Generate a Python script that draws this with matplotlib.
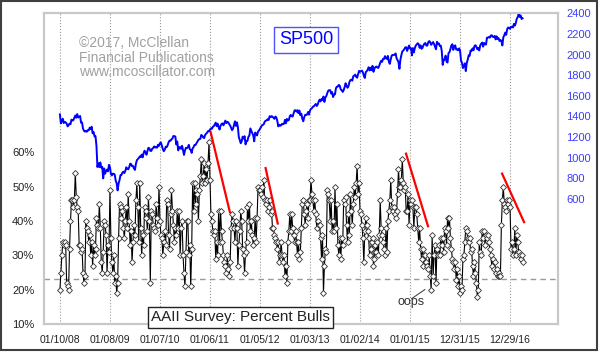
import matplotlib
matplotlib.use("Agg")
import matplotlib.pyplot as plt
from matplotlib.patches import Rectangle
import pandas as pd

plt.rcParams['font.family'] = ['Liberation Sans', 'DejaVu Sans']

first_week = "2008-01-10"

# AAII percent bulls, weekly, in 52-week blocks starting at each x tick
bulls_08 = [20, 25, 30, 34, 33, 34, 33, 22, 21, 20, 32, 40, 46, 46, 44, 46, 54, 47, 44, 43,
            33, 33, 31, 32, 25, 22, 24, 40, 38, 37, 34, 36, 30, 34, 27, 33, 30, 32, 41, 39,
            38, 45, 38, 28, 25, 31, 40, 39, 36, 25, 33, 31]
bulls_09 = [49, 35, 28, 25, 30, 22, 24, 19, 22, 35, 45, 44, 41, 43, 38, 35, 40, 44, 38, 48,
            40, 33, 37, 28, 34, 39, 36, 46, 51, 44, 34, 51, 38, 30, 36, 33, 44, 43, 41, 37,
            47, 40, 22, 43, 42, 39, 38, 37, 45, 41, 39, 50]
bulls_10 = [40, 36, 35, 30, 34, 37, 33, 46, 45, 36, 32, 42, 49, 43, 39, 34, 38, 36, 43, 38,
            43, 30, 38, 40, 30, 25, 21, 31, 40, 40, 30, 33, 21, 32, 51, 43, 51, 45, 49, 48,
            40, 49, 53, 58, 51, 53, 57, 51, 55, 52, 57, 63]
bulls_11 = [52, 42, 40, 37, 36, 37, 29, 34, 30, 43, 34, 43, 37, 34, 30, 28, 27, 25, 30, 26,
            24, 28, 38, 42, 40, 38, 34, 40, 38, 27, 33, 37, 43, 40, 32, 30, 25, 31, 34, 44,
            40, 45, 37, 40, 36, 33, 35, 41, 34, 41, 50, 49]
bulls_12 = [49, 48, 50, 47, 52, 46, 45, 46, 43, 44, 46, 42, 43, 38, 38, 36, 35, 34, 32, 34,
            28, 30, 34, 30, 28, 30, 24, 27, 22, 34, 37, 42, 37, 42, 38, 36, 34, 37, 34, 30,
            34, 29, 31, 38, 45, 46, 42, 39, 43, 45, 41, 46]
bulls_13 = [46, 52, 48, 46, 43, 46, 42, 38, 40, 39, 39, 35, 29, 36, 19, 27, 32, 31, 49, 48,
            46, 40, 46, 37, 40, 37, 50, 38, 45, 33, 30, 35, 29, 35, 33, 46, 45, 47, 39, 34,
            42, 36, 48, 43, 39, 45, 50, 47, 51, 56, 48, 51]
bulls_14 = [43, 42, 39, 35, 28, 37, 41, 39, 37, 35, 30, 32, 34, 35, 27, 29, 33, 31, 34, 30,
            36, 46, 38, 36, 34, 32, 30, 38, 31, 40, 43, 46, 52, 44, 43, 44, 42, 41, 43, 48,
            55, 50, 50, 52, 58, 51, 49, 50, 43, 43, 48, 39]
bulls_15 = [46, 45, 46, 44, 38, 44, 44, 42, 38, 34, 38, 32, 29, 32, 27, 30, 30, 28, 27, 26,
            30, 24, 20, 36, 24, 30, 33, 22, 32, 30, 33, 30, 35, 33, 35, 31, 38, 37, 33, 41,
            38, 41, 35, 32, 29, 28, 26, 28, 23, 26, 21, 24]
bulls_16 = [19, 21, 20, 29, 30, 34, 38, 37, 35, 34, 35, 31, 32, 27, 24, 28, 25, 22, 18, 20,
            34, 31, 30, 37, 35, 37, 33, 36, 35, 36, 34, 32, 30, 27, 29, 26, 28, 25, 26, 24,
            25, 24, 24, 39, 46, 50, 45, 44, 43, 46, 45, 46]
bulls_17 = [44, 32, 34, 30, 32, 38, 30, 36, 34, 31, 30, 29, 30, 28]

# S&P 500 weekly closes (Thursdays), by calendar year
spx_2008 = [1420, 1333, 1352, 1378, 1336, 1348, 1342, 1331, 1304, 1315, 1330, 1325, 1369,
            1360, 1365, 1388, 1409, 1388, 1423, 1390, 1398, 1404, 1339, 1342, 1283, 1262,
            1253, 1260, 1252, 1267, 1266, 1292, 1277, 1300, 1237, 1249, 1206, 1209, 1114,
            910, 946, 908, 954, 905, 911, 800, 896, 845, 873, 885, 868]
spx_2009 = [931, 909, 844, 828, 845, 845, 835, 778, 752, 683, 750, 784, 832, 834, 856, 865,
            851, 873, 907, 893, 888, 906, 942, 939, 918, 920, 896, 882, 940, 976, 986, 997,
            1012, 1007, 1030, 1003, 1044, 1068, 1050, 1029, 1065, 1096, 1092, 1066, 1066,
            1088, 1094, 1110, 1099, 1102, 1097, 1126, 1115]
spx_2010 = [1141, 1148, 1116, 1084, 1063, 1078, 1106, 1102, 1122, 1150, 1166, 1165, 1178,
            1187, 1211, 1208, 1206, 1128, 1157, 1071, 1103, 1102, 1086, 1116, 1074, 1027,
            1070, 1096, 1093, 1101, 1125, 1083, 1075, 1047, 1090, 1104, 1124, 1124, 1141,
            1158, 1173, 1180, 1183, 1221, 1213, 1196, 1190, 1221, 1233, 1242, 1258, 1257]
spx_2011 = [1273, 1283, 1281, 1299, 1307, 1321, 1340, 1306, 1330, 1295, 1273, 1310, 1326,
            1333, 1314, 1337, 1360, 1335, 1348, 1343, 1325, 1312, 1289, 1267, 1283, 1320,
            1353, 1308, 1343, 1300, 1200, 1172, 1140, 1159, 1204, 1185, 1209, 1129, 1160,
            1164, 1203, 1215, 1284, 1261, 1239, 1216, 1159, 1244, 1234, 1216, 1254, 1263]
spx_2012 = [1281, 1295, 1314, 1318, 1326, 1351, 1358, 1363, 1374, 1366, 1402, 1393, 1403,
            1398, 1387, 1377, 1399, 1391, 1357, 1304, 1320, 1310, 1314, 1329, 1325, 1329,
            1367, 1334, 1376, 1360, 1365, 1402, 1415, 1403, 1399, 1432, 1459, 1460, 1447,
            1461, 1432, 1457, 1412, 1427, 1378, 1353, 1391, 1416, 1414, 1419, 1443, 1418]
spx_2013 = [1459, 1472, 1480, 1494, 1498, 1509, 1521, 1502, 1515, 1544, 1563, 1546, 1569,
            1559, 1593, 1541, 1585, 1598, 1627, 1650, 1655, 1655, 1622, 1636, 1588, 1613,
            1615, 1675, 1689, 1690, 1706, 1697, 1661, 1656, 1638, 1655, 1683, 1722, 1698,
            1678, 1692, 1733, 1752, 1757, 1747, 1790, 1795, 1806, 1785, 1775, 1810, 1842]
spx_2014 = [1832, 1838, 1845, 1828, 1794, 1773, 1830, 1839, 1854, 1877, 1846, 1872, 1849,
            1891, 1833, 1864, 1878, 1884, 1875, 1870, 1892, 1920, 1940, 1930, 1959, 1957,
            1985, 1964, 1958, 1987, 1930, 1910, 1955, 1992, 1996, 1997, 1997, 2011, 1965,
            1946, 1928, 1862, 1950, 1994, 2031, 2039, 2052, 2068, 2072, 2035, 2061, 2088]
spx_2015 = [2058, 2062, 1992, 2063, 2021, 2062, 2088, 2098, 2110, 2101, 2065, 2089, 2056,
            2066, 2091, 2106, 2112, 2086, 2088, 2121, 2131, 2120, 2095, 2108, 2121, 2102,
            2076, 2051, 2124, 2102, 2108, 2083, 2086, 2035, 1900, 1951, 1952, 1990, 1932,
            1923, 2013, 2023, 2052, 2089, 2100, 2045, 2082, 2089, 2049, 2052, 2041, 2060, 2044]
spx_2016 = [1943, 1921, 1869, 1893, 1915, 1840, 1918, 1951, 1993, 1989, 2040, 2036, 2060,
            2041, 2082, 2091, 2075, 2051, 2064, 2040, 2090, 2105, 2116, 2077, 2113, 2099,
            2097, 2163, 2165, 2170, 2164, 2185, 2187, 2172, 2170, 2181, 2147, 2177, 2151,
            2160, 2132, 2141, 2133, 2088, 2167, 2187, 2213, 2191, 2246, 2262, 2260, 2249]
spx_2017 = [2269, 2270, 2263, 2297, 2281, 2307, 2347, 2364, 2395, 2365, 2380, 2345, 2352]

tick_labels = ["01/10/08", "01/08/09", "01/07/10", "01/06/11", "01/05/12",
               "01/03/13", "01/02/14", "01/01/15", "12/31/15", "12/29/16"]
pct_ticks = [10, 20, 30, 40, 50, 60]
spx_ticks = [600, 800, 1000, 1200, 1400, 1600, 1800, 2000, 2200, 2400]

# red trend lines on bulls
trend_from = ["2011-01-10", "2012-02-15", "2014-12-03", "2016-11-01"]
trend_from_val = [66, 55.4, 59.6, 53.8]
trend_to = ["2011-05-31", "2012-05-13", "2015-05-12", "2017-04-10"]
trend_to_val = [42.6, 39.3, 38.5, 39.7]
threshold = 23.3

oops_text_at = ("2015-01-09", 16.4)
oops_line_dates = ["2015-01-14", "2015-04-19"]
oops_line_vals = [17.5, 20.1]

bulls = (bulls_08 + bulls_09 + bulls_10 + bulls_11 + bulls_12 + bulls_13 + bulls_14
         + bulls_15 + bulls_16 + bulls_17)
spx = (spx_2008 + spx_2009 + spx_2010 + spx_2011 + spx_2012 + spx_2013 + spx_2014
       + spx_2015 + spx_2016 + spx_2017)
dates = pd.date_range(first_week, periods=len(bulls), freq="7D")

fig = plt.figure(figsize=(6, 3.53), dpi=100)
ax = fig.add_axes([0.0733, 0.0813, 0.8567, 0.8810])
ax2 = ax.twinx()

ax.plot(dates, bulls, color="black", lw=0.8, marker="D", ms=3.0,
        mfc="white", mec="#303030", mew=0.6, zorder=3)
ax.axhline(threshold, color="#999999", lw=1, ls=(0, (4, 3)), zorder=2)
for i in range(len(trend_from)):
    ax.plot(pd.to_datetime([trend_from[i], trend_to[i]]),
            [trend_from_val[i], trend_to_val[i]], color="#ff0000", lw=1.6, zorder=4)

ax.plot(pd.to_datetime(oops_line_dates), oops_line_vals, color="#333333", lw=0.7)
ax.text(pd.to_datetime(oops_text_at[0]), oops_text_at[1], "oops", fontsize=9,
        color="#333333", ha="center", va="center")

ax2.plot(dates, spx, color="#0000ff", lw=1.4)

ax.set_xlim(pd.to_datetime("2007-09-16"), pd.to_datetime("2017-12-13"))
ax.set_ylim(10, 100.4)
ax2.set_ylim(-615, 2400)

ax.set_xticks(pd.to_datetime(tick_labels, format="%m/%d/%y"))
ax.set_xticklabels(tick_labels)
ax.set_yticks(pct_ticks)
ax.set_yticklabels([f"{v}%" for v in pct_ticks])
ax2.set_yticks(spx_ticks)
ax2.set_yticklabels([str(v) for v in spx_ticks])

ax.tick_params(axis="x", length=0, pad=8, labelsize=7.5, labelcolor="#222222")
ax.tick_params(axis="y", length=0, pad=7, labelsize=8, labelcolor="#222222")
ax2.tick_params(axis="y", length=0, pad=6, labelsize=8, labelcolor="#3c3cff")

ax.grid(axis="x", ls=":", color="#999999", lw=0.8)
ax.set_axisbelow(True)
for a in (ax, ax2):
    for s in a.spines.values():
        s.set_color("#c8c8c8")
        s.set_linewidth(1.5)

ax2.text(0.51, 0.915, "SP500", transform=ax2.transAxes, fontsize=13, color="#0000ff",
         ha="center", va="center",
         bbox=dict(boxstyle="square,pad=0.25", fc="white", ec="#5050ff", lw=1))
ax2.text(0.382, 0.022, "AAII Survey: Percent Bulls", transform=ax2.transAxes, fontsize=11,
         color="#222222", ha="center", va="center",
         bbox=dict(boxstyle="square,pad=0.2", fc="white", ec="#222222", lw=1))
ax2.text(0.068, 0.926, "\u00a92017, McClellan\nFinancial Publications\nwww.mcoscillator.com",
         transform=ax2.transAxes, fontsize=10, color="#a0a0a0", ha="left", va="top",
         linespacing=1.05)

fig.add_artist(Rectangle((0.0017, 0.0085), 0.9933, 0.99, transform=fig.transFigure,
                         fill=False, ec="#404040", lw=1.5))

fig.savefig("out.png", dpi=100)
